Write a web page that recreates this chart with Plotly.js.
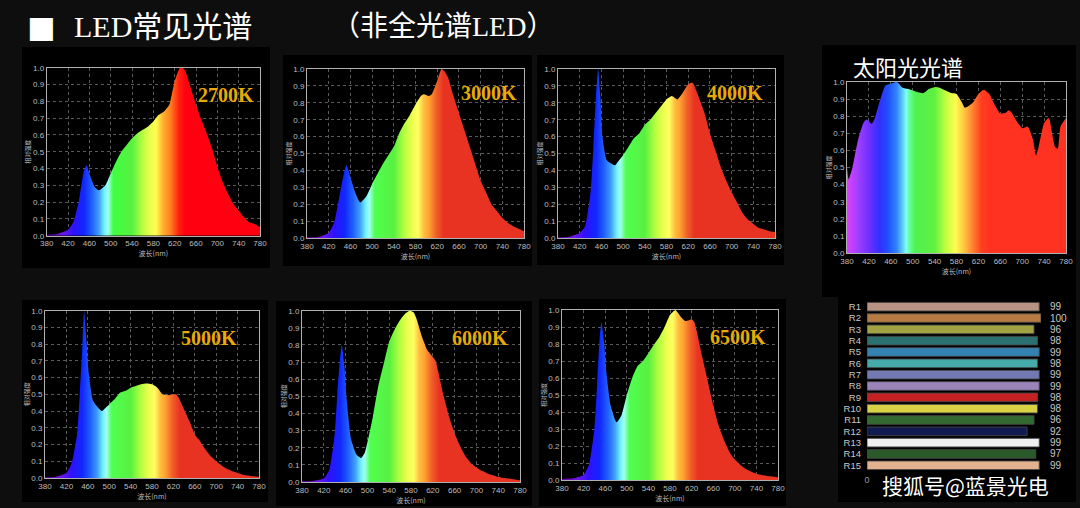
<!DOCTYPE html>
<html>
<head>
<meta charset="utf-8">
<script src="https://cdn.plot.ly/plotly-3.0.1.min.js"></script>
<style>html,body{margin:0;padding:0;background:#0e0e0e;}#chart{width:1080px;height:508px;}</style>
</head>
<body>
<div id="chart"></div>
<script>
// ---------- DATA ----------
const wl2700 = [380,400,420,430,440,445,450,455,460,470,478,490,500,510,520,530,540,550,560,570,580,590,600,610,620,630,635,640,650,660,670,680,690,700,710,720,730,740,750,760,770,780];
const v2700  = [0.005,0.01,0.035,0.08,0.2,0.3,0.39,0.42,0.37,0.29,0.27,0.30,0.37,0.44,0.50,0.54,0.58,0.61,0.63,0.65,0.68,0.72,0.74,0.78,0.92,1.0,1.0,0.98,0.88,0.78,0.69,0.61,0.52,0.41,0.32,0.25,0.19,0.15,0.11,0.08,0.07,0.05];

const wl3000 = [380,400,420,430,440,450,453,460,470,478,490,500,510,520,530,540,550,560,570,580,590,595,605,610,620,628,635,640,650,660,670,680,690,700,710,720,730,740,750,760,770,780];
const v3000  = [0.005,0.006,0.03,0.09,0.25,0.41,0.43,0.36,0.26,0.21,0.25,0.32,0.38,0.44,0.49,0.54,0.62,0.68,0.73,0.79,0.84,0.85,0.84,0.85,0.93,1.0,0.98,0.95,0.84,0.74,0.64,0.54,0.44,0.34,0.27,0.20,0.16,0.12,0.09,0.07,0.055,0.04];

const wl4000 = [380,400,420,430,440,445,450,454,458,462,470,485,490,500,510,520,530,540,550,560,570,580,590,600,610,620,627,630,640,650,660,670,680,690,700,710,720,730,740,750,760,770,780];
const v4000  = [0.005,0.008,0.03,0.07,0.27,0.52,0.84,1.0,0.84,0.6,0.46,0.43,0.45,0.49,0.54,0.59,0.62,0.67,0.70,0.74,0.78,0.82,0.84,0.82,0.86,0.91,0.92,0.91,0.83,0.74,0.62,0.52,0.42,0.34,0.27,0.21,0.15,0.11,0.085,0.06,0.05,0.04,0.035];

const wlSun = [380,383,390,400,410,415,420,425,430,440,450,460,470,475,480,490,500,510,520,530,540,550,560,570,580,590,595,600,610,620,630,640,650,660,670,675,680,690,700,710,720,725,730,740,748,750,760,765,770,780];
const vSun  = [0.50,0.43,0.50,0.66,0.76,0.78,0.77,0.755,0.78,0.89,0.98,0.99,1.0,0.99,0.97,0.96,0.95,0.94,0.935,0.96,0.97,0.965,0.95,0.935,0.93,0.88,0.85,0.855,0.88,0.93,0.955,0.93,0.865,0.815,0.82,0.835,0.825,0.77,0.73,0.74,0.66,0.57,0.62,0.76,0.79,0.78,0.62,0.61,0.74,0.79];

const wl5000 = [380,400,420,430,440,445,450,453,458,462,470,486,490,500,510,520,530,540,550,560,570,580,590,600,610,620,625,630,640,650,660,670,680,690,700,710,720,730,740,750,760,770,780];
const v5000  = [0.004,0.008,0.03,0.09,0.26,0.5,0.8,1.0,0.8,0.62,0.46,0.40,0.41,0.44,0.47,0.51,0.52,0.54,0.55,0.56,0.565,0.56,0.54,0.50,0.495,0.50,0.50,0.48,0.41,0.34,0.26,0.22,0.17,0.13,0.10,0.075,0.055,0.04,0.03,0.02,0.015,0.01,0.008];

const wl6000 = [380,400,420,430,440,445,450,453,458,462,470,480,488,495,500,510,520,530,540,550,560,570,578,585,590,600,610,620,625,630,640,650,660,670,680,690,700,710,720,730,740,750,760,770,780];
const v6000  = [0.004,0.006,0.02,0.07,0.28,0.52,0.73,0.80,0.67,0.48,0.25,0.16,0.14,0.17,0.23,0.38,0.56,0.69,0.82,0.89,0.945,0.985,1.0,0.99,0.955,0.85,0.77,0.73,0.71,0.645,0.50,0.38,0.285,0.21,0.15,0.11,0.085,0.065,0.05,0.04,0.03,0.023,0.02,0.014,0.01];

const wl6500 = [380,400,420,430,440,445,450,453,458,462,470,481,490,500,510,520,530,540,550,560,570,580,590,600,608,615,620,625,630,640,650,660,670,680,690,700,710,720,730,740,750,760,770,780];
const v6500  = [0.006,0.01,0.03,0.09,0.30,0.56,0.85,0.93,0.81,0.64,0.44,0.34,0.38,0.50,0.60,0.67,0.70,0.745,0.795,0.84,0.90,0.97,1.0,0.96,0.935,0.94,0.945,0.93,0.87,0.72,0.58,0.44,0.32,0.235,0.165,0.12,0.09,0.065,0.05,0.037,0.03,0.024,0.02,0.016];

const spectrumLabels = ['2700K','3000K','4000K','5000K','6000K','6500K'];
const sunTitle = '太阳光光谱';

const craLabels = ['R1','R2','R3','R4','R5','R6','R7','R8','R9','R10','R11','R12','R13','R14','R15'];
const craValues = [99,100,96,98,99,98,99,99,98,98,96,92,99,97,99];

const xTicks = [380,420,460,500,540,580,620,660,700,740,780];
const yTicks = [0,0.1,0.2,0.3,0.4,0.5,0.6,0.7,0.8,0.9,1.0];

// ---------- STYLE ----------
const craColors = ['#b89282','#b67a42','#a3a242','#2b7171','#3282b2','#44aaaa','#737ab3','#9a84ba','#c42222','#d9d244','#326a32','#121a52','#f0f0f0','#2a5a2a','#e2b290'];

function scale(stops){ return stops.map(s => [(s[0]-380)/400, s[1]]); }
const ledStops = [[380,'#7000b0'],[410,'#6a18e8'],[430,'#3010ff'],[450,'#1028ff'],[465,'#2060ff'],[478,'#40a0ff'],[488,'#70f0ff'],[495,'#a0fff0'],[505,'#50ff50'],[540,'#58f040'],[560,'#b8ff40'],[575,'#f0ff50'],[585,'#ffff60'],[595,'#ffc040'],[605,'#ffa030'],[618,'#f06028'],[632,'#e83222'],[780,'#e83222']];
const warmStops = [[380,'#7000b0'],[410,'#6a18e8'],[430,'#3010ff'],[450,'#1028ff'],[465,'#2060ff'],[478,'#40a0ff'],[488,'#70f0ff'],[495,'#a0fff0'],[505,'#40ff40'],[540,'#58f040'],[560,'#b8ff40'],[575,'#f0ff50'],[585,'#ffff50'],[598,'#ffb030'],[612,'#ff8020'],[628,'#ff2010'],[640,'#ff0010'],[780,'#ff0010']];
const sunStops = [[380,'#e040ff'],[400,'#a040ff'],[420,'#7030ff'],[440,'#3030ff'],[455,'#2050ff'],[470,'#3080ff'],[482,'#60d0ff'],[488,'#80ffff'],[495,'#60ff90'],[505,'#50f050'],[540,'#60f040'],[560,'#c0ff40'],[578,'#ffff50'],[595,'#ffc040'],[610,'#ff8030'],[625,'#ff4020'],[640,'#ff3222'],[780,'#ff3222']];

const panels = [
  {wl:wl2700, v:v2700, stops:warmStops, ax:'',  dx:[46.7,260], dy:[67.7,235.7], label:spectrumLabels[0], lx:226, ly:95, box:[22,47,270,268]},
  {wl:wl3000, v:v3000, stops:ledStops,  ax:'2', dx:[307,524],  dy:[69,238],     label:spectrumLabels[1], lx:489, ly:93, box:[283,55,532,266]},
  {wl:wl4000, v:v4000, stops:ledStops,  ax:'3', dx:[558,775],  dy:[69,238],     label:spectrumLabels[2], lx:735, ly:93, box:[537,55,784,265]},
  {wl:wlSun,  v:vSun,  stops:sunStops,  ax:'4', dx:[847,1066], dy:[82,253],     label:null, box:[822,45,1076,297]},
  {wl:wl5000, v:v5000, stops:ledStops,  ax:'5', dx:[45,259],   dy:[310.7,478],  label:spectrumLabels[3], lx:209, ly:338, box:[22,300,268,502]},
  {wl:wl6000, v:v6000, stops:ledStops,  ax:'6', dx:[302,520],  dy:[310.7,482],  label:spectrumLabels[4], lx:480, ly:338, box:[276,301,532,506]},
  {wl:wl6500, v:v6500, stops:ledStops,  ax:'7', dx:[562,778],  dy:[310,480],    label:spectrumLabels[5], lx:738, ly:337, box:[539,299,786,506]}
];

const W = 1080, H = 508;
const px = x => x / W, py = y => (H - y) / H;

const data = [];
const layout = {
  width: W, height: H,
  margin: {l:0, r:0, t:0, b:0},
  paper_bgcolor: '#0e0e0e',
  plot_bgcolor: '#000',
  showlegend: false,
  shapes: [],
  annotations: []
};

const tickFont = {family:'Liberation Sans, Arial, sans-serif', size:8, color:'#bdbdbd'};
const gridCol = '#5a5a5a';

panels.forEach(p => {
  const xa = 'x' + p.ax, ya = 'y' + p.ax;
  data.push({
    type: 'scatter', mode: 'lines', x: p.wl, y: p.v,
    xaxis: xa, yaxis: ya,
    line: {width: 0, shape: 'spline', smoothing: 0.5, color: 'rgba(0,0,0,0)'},
    fill: 'tozeroy',
    fillgradient: {type: 'horizontal', start: 380, stop: 780, colorscale: scale(p.stops)},
    hoverinfo: 'skip'
  });
  const xk = 'xaxis' + p.ax, yk = 'yaxis' + p.ax;
  layout[xk] = {
    domain: [px(p.dx[0]), px(p.dx[1])], anchor: ya,
    range: [380, 780], tickvals: xTicks, ticktext: xTicks.map(String),
    showgrid: true, gridcolor: gridCol, griddash: 'dot', gridwidth: 1,
    showline: true, linecolor: '#b0b0b0', linewidth: 1, mirror: true,
    ticks: '', tickfont: tickFont, zeroline: false,
    title: {text: '波长(nm)', font: {family:'Noto Sans CJK SC, sans-serif', size: 7, color:'#bdbdbd'}, standoff: 1}
  };
  layout[yk] = {
    domain: [py(p.dy[1]), py(p.dy[0])], anchor: xa,
    range: [0, 1], tickvals: yTicks, tickformat: '.1f',
    showgrid: true, gridcolor: gridCol, griddash: 'dot', gridwidth: 1,
    showline: true, linecolor: '#b0b0b0', linewidth: 1, mirror: true,
    ticks: '', tickfont: tickFont, zeroline: false,
    title: {text: '相对强度', font: {family:'Noto Sans CJK SC, sans-serif', size: 6, color:'#bdbdbd'}, standoff: 1}
  };
  layout.shapes.push({type:'rect', xref:'paper', yref:'paper', layer:'below',
    x0: px(p.box[0]), x1: px(p.box[2]), y0: py(p.box[3]), y1: py(p.box[1]),
    fillcolor:'#000', line:{width:0}});
  if (p.label) {
    layout.annotations.push({xref:'paper', yref:'paper', x: px(p.lx), y: py(p.ly),
      xanchor:'center', yanchor:'middle', showarrow:false, text: '<b>' + p.label + '</b>',
      font:{family:'Liberation Serif, Times New Roman, serif', size:20, color:'#e8aa06'}});
  }
});

// Sun title
layout.annotations.push({xref:'paper', yref:'paper', x: px(851), y: py(66), xanchor:'left', yanchor:'middle',
  showarrow:false, text: sunTitle, font:{family:'Noto Sans CJK SC, sans-serif', size:22, color:'#ffffff'}});

// CRI bar chart
layout.shapes.push({type:'rect', xref:'paper', yref:'paper', layer:'below',
  x0: px(838), x1: px(1076), y0: py(502), y1: py(297), fillcolor:'#000', line:{width:0}});
data.push({
  type:'bar', orientation:'h', x: craValues, y: craLabels, xaxis:'x8', yaxis:'y8',
  marker:{color: craColors, line:{color:'rgba(70,70,70,0.9)', width:1}},
  width: 0.76, hoverinfo:'skip'
});
layout.xaxis8 = {domain:[px(867), px(1041)], anchor:'y8', range:[0,100], tickvals:[0],
  showgrid:true, gridcolor:'#2e2e2e', griddash:'dot', zeroline:false, showline:false, ticks:'',
  tickfont:{family:'Liberation Sans, Arial, sans-serif', size:9, color:'#9a9a9a'}};
layout.yaxis8 = {domain:[py(472.8), py(299.2)], anchor:'x8', autorange:'reversed', type:'category',
  tickmode:'array', tickvals: craLabels, ticktext: craLabels,
  showgrid:false, zeroline:false, showline:false, ticks:'', ticklabelstandoff: 5,
  tickfont:{family:'Liberation Sans, Arial, sans-serif', size:9.5, color:'#c8c8c8'}};
craLabels.forEach((c, i) => {
  layout.annotations.push({xref:'paper', yref:'y8', x: px(1048), y: c, xanchor:'left', yanchor:'middle',
    showarrow:false, text: String(craValues[i]),
    font:{family:'Liberation Sans, Arial, sans-serif', size:10, color:'#c8c8c8'}});
});

// Watermark
layout.annotations.push({xref:'paper', yref:'paper', x: px(965), y: py(485), xanchor:'center', yanchor:'middle',
  showarrow:false, text:'搜狐号@蓝景光电', font:{family:'Noto Sans CJK SC, sans-serif', size:21, color:'#ffffff'}});

// Main title
layout.annotations.push({xref:'paper', yref:'paper', x: px(41), y: py(26), xanchor:'center', yanchor:'middle',
  showarrow:false, text:'■', font:{family:'DejaVu Sans, sans-serif', size:30, color:'#ffffff'}});
layout.annotations.push({xref:'paper', yref:'paper', x: px(72), y: py(26), xanchor:'left', yanchor:'middle',
  showarrow:false, text:'LED常见光谱', font:{family:'Liberation Serif, Noto Sans CJK SC, serif', size:30, color:'#ffffff'}});
layout.annotations.push({xref:'paper', yref:'paper', x: px(330), y: py(26), xanchor:'left', yanchor:'middle',
  showarrow:false, text:'（非全光谱LED）', font:{family:'Liberation Serif, Noto Sans CJK SC, serif', size:28, color:'#ffffff'}});

Plotly.newPlot('chart', data, layout, {displayModeBar:false, staticPlot:true});
</script>
</body>
</html>
